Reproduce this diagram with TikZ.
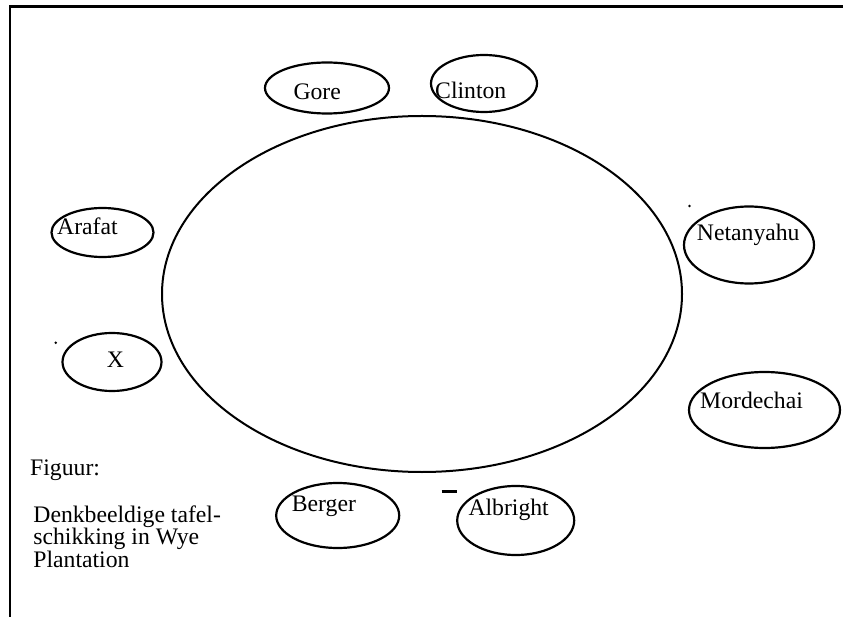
\documentclass[tikz,border=0pt]{standalone}
\usepackage{fontspec}
\setmainfont{Liberation Serif}
\usetikzlibrary{shapes.geometric}
\begin{document}
\begin{tikzpicture}[x=1pt,y=-1pt,
  seat/.style={draw, ellipse, line width=2.2pt, inner sep=0pt},
  label text/.style={anchor=base west, inner sep=0pt, font=\fontsize{23.7}{22.5}\selectfont},
  frameline/.style={line width=2.4pt},
  speck/.style={fill=black, circle, inner sep=0pt, minimum size=2.8pt}]
\useasboundingbox (0,0) rectangle (843,617);
% frame on the top and left sides
\coordinate (ftl) at (10,6.5);
\coordinate (ftr) at (843,6.5);
\coordinate (fbl) at (10,617);
\draw[frameline] (ftr) -- (ftl) -- (fbl);
% the table
\node[seat, line width=2pt, minimum width=520pt, minimum height=356pt] (table) at (422,294) {};
% the seats
\node[seat, minimum width=124pt, minimum height=51pt] (gore) at (327,88) {};
\node[seat, minimum width=106pt, minimum height=57pt] (clinton) at (484,83.5) {};
\node[seat, minimum width=102pt, minimum height=49pt] (arafat) at (102.5,232.5) {};
\node[seat, minimum width=99pt, minimum height=58pt] (x) at (112,362) {};
\node[seat, minimum width=130pt, minimum height=77pt] (netanyahu) at (749,245) {};
\node[seat, minimum width=151pt, minimum height=76pt] (mordechai) at (764.5,410) {};
\node[seat, minimum width=123pt, minimum height=65pt] (berger) at (337.7,515.5) {};
\node[seat, minimum width=117pt, minimum height=69pt] (albright) at (515.7,520.5) {};
% names
\node[label text] (tgore) at (293.3,100) {Gore};
\node[label text] (tclinton) at (435,99) {Clinton};
\node[label text] (tarafat) at (57,235) {Arafat};
\node[label text] (tx) at (106.7,367.7) {X};
\node[label text] (tnetanyahu) at (696.7,241) {Netanyahu};
\node[label text] (tmordechai) at (700,408.3) {Mordechai};
\node[label text] (tberger) at (291.7,511.7) {Berger};
\node[label text] (talbright) at (468.3,515.5) {Albright};
% caption
\node[label text] (fig) at (30,475) {Figuur:};
\node[label text, anchor=north west, align=left] (caption) at (33.2,505.5)
  {Denkbeeldige tafel-\\schikking in Wye\\Plantation};
% stray marks
\node[speck] (s1) at (689.5,206) {};
\node[speck] (s2) at (55.7,342.7) {};
\coordinate (d1) at (441.7,491.7);
\coordinate (d2) at (456.7,491.7);
\draw[line width=2.8pt] (d1) -- (d2);
\end{tikzpicture}
\end{document}
